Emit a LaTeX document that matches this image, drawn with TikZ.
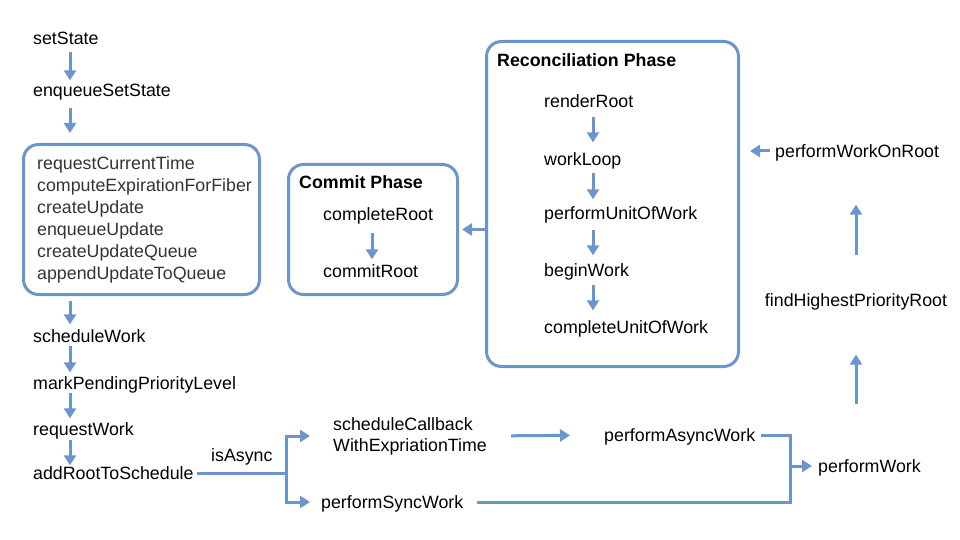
\documentclass[tikz,border=0pt]{standalone}
\usepackage{fontspec}
\setmainfont{Liberation Sans}
\usepackage{xcolor}
\usepackage{tikz}
\usetikzlibrary{arrows.meta,positioning,calc}

\definecolor{flowblue}{RGB}{106,150,205}

\begin{document}
\begin{tikzpicture}[x=1pt, y=-1pt,
  txt/.style={anchor=west, inner sep=0pt, text height=13pt, text depth=0pt, font=\fontsize{17.8}{21}\selectfont},
  title/.style={txt, font=\fontsize{17.8}{21}\selectfont\bfseries},
  phasebox/.style={draw=flowblue, line width=3pt, rounded corners=15pt, anchor=north west, inner sep=0pt},
  link/.style={draw=flowblue, line width=3pt},
  flow/.style={link, -{Triangle[width=12pt,length=10pt]}}]

\useasboundingbox (0,0) rectangle (960,540);

% Left column (update path)
\coordinate (spine) at (70,0);
\node[txt] (setstate) at (33,38) {setState};
\node[txt] (enqueue) at (33,90) {enqueueSetState};
\node[phasebox, minimum width=236pt, minimum height=150pt] (updates) at (22,143) {};
\node[anchor=west, inner sep=0pt, align=left, text=black!80, font=\fontsize{17.8}{22}\selectfont]
  (updatelist) at ($(updates.west)+(15,0)$)
  {requestCurrentTime\\computeExpirationForFiber\\createUpdate\\enqueueUpdate\\createUpdateQueue\\appendUpdateToQueue};
\node[txt] (schedwork) at (33,336) {scheduleWork};
\node[txt] (markpending) at (33,383) {markPendingPriorityLevel};
\node[txt] (requestwork) at (33,429) {requestWork};
\node[txt] (addroot) at (33,473) {addRootToSchedule};

\draw[flow, shorten <=7pt, shorten >=3pt] (setstate.south -| spine) -- (enqueue.north -| spine);
\draw[flow, shorten <=11pt, shorten >=10pt] (enqueue.south -| spine) -- (updates.north -| spine);
\draw[flow, shorten <=5pt, shorten >=5pt] (updates.south -| spine) -- (schedwork.north -| spine);
\draw[flow, shorten <=3pt, shorten >=4pt] (schedwork.south -| spine) -- (markpending.north -| spine);
\draw[flow, shorten <=3pt, shorten >=4pt] (markpending.south -| spine) -- (requestwork.north -| spine);
\draw[flow, shorten <=4pt, shorten >=1pt] (requestwork.south -| spine) -- (addroot.north -| spine);

% Async / sync split
\coordinate (split) at (286,473);
\node[txt] (isasync) at (211,455) {isAsync};
\node[anchor=west, inner sep=0pt, align=left, font=\fontsize{17.8}{21}\selectfont] (schedcb) at (333,436)
  {scheduleCallback\\WithExpriationTime};
\node[txt] (asyncwork) at (604,435) {performAsyncWork};
\node[txt] (syncwork) at (321,502) {performSyncWork};
\coordinate (join) at (790,466);
\node[txt] (performwork) at (818,466) {performWork};

\draw[link, shorten <=3pt] (addroot.east) -- (split);
\draw[flow, shorten >=23pt] (split) |- (schedcb.west);
\draw[flow, shorten >=11pt] (split) |- (syncwork.west);
\draw[flow, shorten <=24pt, shorten >=34pt] (schedcb.east) -- (asyncwork.west);
\draw[link, shorten <=6pt] (asyncwork.east) -| (join);
\draw[link, shorten <=13pt] (syncwork.east) -| (join);
\draw[flow, shorten >=6pt] (join) -- (performwork.west);

% Right column
\node[txt, anchor=center] (findroot) at (856,300) {findHighestPriorityRoot};
\node[txt] (workonroot) at (775,151) {performWorkOnRoot};

\draw[flow, shorten <=55pt, shorten >=48pt] (findroot.south |- performwork.north) -- (findroot.south);
\draw[flow, shorten <=38pt, shorten >=47pt] (findroot.north) -- (findroot.north |- workonroot.south);

% Reconciliation phase
\node[phasebox, minimum width=252pt, minimum height=325pt] (recon) at (485,40) {};
\node[title] (recontitle) at (497,60) {Reconciliation Phase};
\node[txt] (renderroot) at (544,101) {renderRoot};
\node[txt] (workloop) at (544,159) {workLoop};
\node[txt] (unitofwork) at (544,213) {performUnitOfWork};
\node[txt] (beginwork) at (544,270) {beginWork};
\node[txt] (completeunit) at (544,327) {completeUnitOfWork};

\coordinate (reconspine) at (593,0);
\draw[flow, shorten <=9pt, shorten >=10pt] (renderroot.south -| reconspine) -- (workloop.north -| reconspine);
\draw[flow, shorten <=7pt, shorten >=7pt] (workloop.south -| reconspine) -- (unitofwork.north -| reconspine);
\draw[flow, shorten <=10pt, shorten >=8pt] (unitofwork.south -| reconspine) -- (beginwork.north -| reconspine);
\draw[flow, shorten <=8pt, shorten >=10pt] (beginwork.south -| reconspine) -- (completeunit.north -| reconspine);

\draw[flow, shorten <=5pt, shorten >=10pt] (workonroot.west) -- (workonroot.west -| recon.east);

% Commit phase
\node[phasebox, minimum width=169pt, minimum height=130pt] (commit) at (287,163) {};
\node[title] (committitle) at (299,182) {Commit Phase};
\node[txt] (completeroot) at (323,214) {completeRoot};
\node[txt] (commitroot) at (323,271) {commitRoot};

\coordinate (commitspine) at (372,0);
\draw[flow, shorten <=12pt, shorten >=5pt] (completeroot.south -| commitspine) -- (commitroot.north -| commitspine);

\draw[flow, shorten >=3pt] (commit.east -| recon.west) -- (commit.east);

\end{tikzpicture}
\end{document}
